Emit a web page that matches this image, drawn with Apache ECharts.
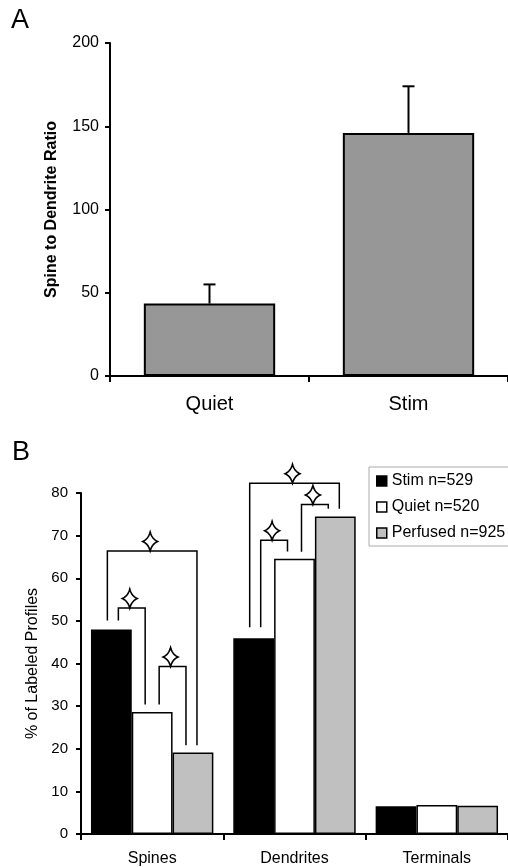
<!DOCTYPE html>
<html><head><meta charset="utf-8">
<script src="https://cdn.jsdelivr.net/npm/echarts@6/dist/echarts.min.js"></script>
<style>html,body{margin:0;padding:0;background:#fff}#c{width:508px;height:867px}</style>
</head><body><div id="c"></div>
<script>
// Panel A
const aCategories = ['Quiet', 'Stim'];
const aMeans = [43.5, 146];
const aErrorTops = [55, 174];
// Panel B
const bCategories = ['Spines', 'Dendrites', 'Terminals'];
const bSeriesNames = ['Stim n=529', 'Quiet n=520', 'Perfused n=925'];
const bStim = [48.0, 45.9, 6.5];
const bQuiet = [28.6, 64.6, 6.8];
const bPerfused = [19.1, 74.5, 6.6];
// significance brackets: [category, fromBar, toBar, topValue, leftLegEnd, rightLegEnd]
const bBrackets = [
  [0, 0, 2, 66.4, 50.1, 20.8],
  [0, 0, 1, 53.0, 50.1, 30.4],
  [0, 1, 2, 39.3, 30.4, 20.8],
  [1, 0, 2, 82.3, 48.5, 76.3],
  [1, 0, 1, 68.9, 48.5, 66.3],
  [1, 1, 2, 77.3, 66.2, 76.3]
];

const FONT = "'Liberation Sans', Arial, Helvetica, sans-serif";
const chart = echarts.init(document.getElementById('c'), null, {renderer: 'canvas'});

function starPoints(cx, cy, w, h) {
  const hw = w / 2, hh = h / 2, k = 0.25;
  const tips = [[cx, cy - hh], [cx + hw, cy], [cx, cy + hh], [cx - hw, cy]];
  const pts = [];
  for (let i = 0; i < 4; i++) {
    const p0 = tips[i], p2 = tips[(i + 1) % 4];
    const ctrl = [cx + (p0[0] + p2[0] - 2 * cx) * k, cy + (p0[1] + p2[1] - 2 * cy) * k];
    for (let t = 0; t < 1; t += 0.1) {
      const a = (1 - t) * (1 - t), b = 2 * (1 - t) * t, c = t * t;
      pts.push([a * p0[0] + b * ctrl[0] + c * p2[0], a * p0[1] + b * ctrl[1] + c * p2[1]]);
    }
  }
  return pts;
}

const axisCommon = {
  axisLine: {show: true, lineStyle: {color: '#000', width: 2}},
  axisTick: {show: true, length: 5, lineStyle: {color: '#000', width: 2}},
  splitLine: {show: false}
};

const option = {
  animation: false,
  backgroundColor: '#fff',
  textStyle: {fontFamily: FONT},
  graphic: [
    {type: 'text', left: 11, top: 7, style: {text: 'A', font: '27px ' + FONT, fill: '#000'}},
    {type: 'text', left: 12, top: 439, style: {text: 'B', font: '27px ' + FONT, fill: '#000'}}
  ],
  grid: [
    {left: 110, top: 43, width: 398, height: 333},
    {left: 81, top: 493, width: 430, height: 342}
  ],
  legend: {
    orient: 'vertical',
    left: 369, top: 467,
    padding: [6, 7, 5, 7],
    itemGap: 10,
    itemWidth: 10, itemHeight: 10,
    icon: 'rect',
    borderColor: '#aaa', borderWidth: 1, backgroundColor: '#fff',
    textStyle: {fontSize: 16, color: '#000', fontFamily: FONT},
    data: [
      {name: bSeriesNames[0], itemStyle: {color: '#000', borderColor: '#000', borderWidth: 1.5}},
      {name: bSeriesNames[1], itemStyle: {color: '#fff', borderColor: '#000', borderWidth: 1.5}},
      {name: bSeriesNames[2], itemStyle: {color: '#c0c0c0', borderColor: '#000', borderWidth: 1.5}}
    ]
  },
  xAxis: [
    Object.assign({}, axisCommon, {
      gridIndex: 0, type: 'category', data: aCategories,
      axisTick: {show: true, length: 6, lineStyle: {color: '#000', width: 2}},
      axisLabel: {fontSize: 20, color: '#000', margin: 18, fontFamily: FONT}
    }),
    Object.assign({}, axisCommon, {
      gridIndex: 1, type: 'category', data: bCategories,
      axisTick: {show: true, length: 6, lineStyle: {color: '#000', width: 2}},
      axisLabel: {fontSize: 16, color: '#000', margin: 17, fontFamily: FONT}
    })
  ],
  yAxis: [
    Object.assign({}, axisCommon, {
      gridIndex: 0, type: 'value', min: 0, max: 200, interval: 50,
      name: 'Spine to Dendrite Ratio', nameLocation: 'middle', nameGap: 50,
      nameTextStyle: {fontSize: 16, fontWeight: 'bold', color: '#000', fontFamily: FONT},
      axisLabel: {fontSize: 16, color: '#000', margin: 11, fontFamily: FONT}
    }),
    Object.assign({}, axisCommon, {
      gridIndex: 1, type: 'value', min: 0, max: 80, interval: 10,
      name: '% of Labeled Profiles', nameLocation: 'middle', nameGap: 39,
      nameTextStyle: {fontSize: 16, color: '#000', fontFamily: FONT},
      axisLabel: {fontSize: 15, color: '#000', margin: 13, fontFamily: FONT}
    })
  ],
  series: [
    {
      type: 'bar', xAxisIndex: 0, yAxisIndex: 0, data: aMeans,
      barCategoryGap: '34%',
      itemStyle: {color: '#979797', borderColor: '#000', borderWidth: 2}
    },
    {
      type: 'custom', xAxisIndex: 0, yAxisIndex: 0, z: 5,
      data: aMeans.map((m, i) => [i, m, aErrorTops[i]]),
      renderItem: function (params, api) {
        const p0 = api.coord([api.value(0), api.value(1)]);
        const p1 = api.coord([api.value(0), api.value(2)]);
        const style = {stroke: '#000', lineWidth: 2, fill: null};
        return {type: 'group', children: [
          {type: 'line', shape: {x1: p0[0], y1: p0[1], x2: p1[0], y2: p1[1]}, style: style},
          {type: 'line', shape: {x1: p1[0] - 6, y1: p1[1], x2: p1[0] + 6, y2: p1[1]}, style: style}
        ]};
      }
    },
    {
      name: bSeriesNames[0], type: 'bar', xAxisIndex: 1, yAxisIndex: 1, data: bStim,
      barGap: '0%', barCategoryGap: '14%',
      itemStyle: {color: '#000', borderColor: '#000', borderWidth: 1.5}
    },
    {
      name: bSeriesNames[1], type: 'bar', xAxisIndex: 1, yAxisIndex: 1, data: bQuiet,
      barGap: '0%', barCategoryGap: '14%',
      itemStyle: {color: '#fff', borderColor: '#000', borderWidth: 1.5}
    },
    {
      name: bSeriesNames[2], type: 'bar', xAxisIndex: 1, yAxisIndex: 1, data: bPerfused,
      barGap: '0%', barCategoryGap: '14%',
      itemStyle: {color: '#c0c0c0', borderColor: '#000', borderWidth: 1.5}
    },
    {
      type: 'custom', xAxisIndex: 1, yAxisIndex: 1, z: 5,
      data: bBrackets,
      renderItem: function (params, api) {
        const cat = api.value(0), from = api.value(1), to = api.value(2);
        const topPt = api.coord([cat, api.value(3)]);
        const cx = topPt[0], yt = topPt[1];
        const band = params.coordSys.width / bCategories.length;
        const barW = band * 0.86 / 3;
        const inset = (to - from) > 1 ? -4 : 7;
        const xl = cx + (from - 1) * barW + inset;
        const xr = cx + (to - 1) * barW - inset;
        const yl = api.coord([cat, api.value(4)])[1];
        const yr = api.coord([cat, api.value(5)])[1];
        const sx = (xl + xr) / 2 - 2, sy = yt - 9.5;
        return {type: 'group', children: [
          {type: 'polyline', shape: {points: [[xl, yl], [xl, yt], [xr, yt], [xr, yr]]},
           style: {stroke: '#000', lineWidth: 1.5, fill: null}},
          {type: 'polygon', shape: {points: starPoints(sx, sy, 15, 19)},
           style: {stroke: '#000', lineWidth: 1.6, fill: '#fff'}}
        ]};
      }
    }
  ]
};
chart.setOption(option);
</script>
</body></html>
